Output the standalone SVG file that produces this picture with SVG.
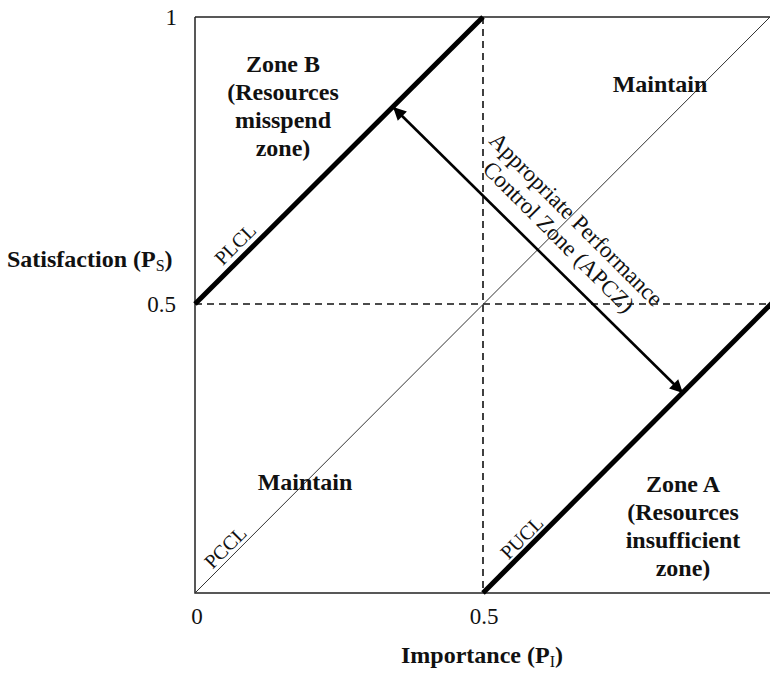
<svg xmlns="http://www.w3.org/2000/svg" width="770" height="673" viewBox="0 0 770 673">
<defs>
<marker id="ah" viewBox="0 0 10 10" refX="9" refY="5" markerWidth="6" markerHeight="5" orient="auto-start-reverse" markerUnits="strokeWidth">
<path d="M0,0 L10,5 L0,10 Z" fill="#000"/>
</marker>
<style>
text{font-family:"Liberation Serif","Times New Roman",serif;fill:#111}
.b{font-weight:bold;font-size:24px}
.r{font-size:23px}
.rl{font-size:20px}
.ap{font-size:23px}
.axis{stroke:#222;stroke-width:1.5;fill:none}
.dash{stroke:#111;stroke-width:1.6;stroke-dasharray:7 5;fill:none}
.thick{stroke:#000;stroke-width:5;fill:none}
.thin{stroke:#333;stroke-width:1;fill:none}
</style>
</defs>
<rect width="770" height="673" fill="#fff"/>
<g id="frame">
<path class="axis" d="M195,17 H770 M195,17 V593 H770"/>
</g>
<g id="connectors">
<path class="dash" d="M483,17 V593"/>
<path class="dash" d="M195,304 H770"/>
<line id="pccl-line" class="thin" x1="195" y1="593" x2="770" y2="17"/>
<line id="plcl-line" class="thick" x1="195" y1="304" x2="483" y2="17"/>
<line id="pucl-line" class="thick" x1="483" y1="593" x2="772" y2="303"/>
<line id="apcz-arrow" x1="394" y1="108" x2="682" y2="392" stroke="#000" stroke-width="2.6" marker-start="url(#ah)" marker-end="url(#ah)"/>
</g>
<g id="ticks">
<text class="r" x="177" y="25" text-anchor="end">1</text>
<text class="r" x="176" y="312" text-anchor="end">0.5</text>
<text class="r" x="197" y="624" text-anchor="middle">0</text>
<text class="r" x="484" y="624" text-anchor="middle">0.5</text>
</g>
<g id="y-label">
<text class="b" x="7" y="267">Satisfaction (P<tspan font-size="16" font-weight="normal" dy="4">S</tspan><tspan dy="-4">)</tspan></text>
</g>
<g id="x-label">
<text class="b" x="401" y="663">Importance (P<tspan font-size="16" font-weight="normal" dy="4">I</tspan><tspan dy="-4">)</tspan></text>
</g>
<g id="zone-b">
<text class="b" text-anchor="middle" x="283" y="72">Zone B</text>
<text class="b" text-anchor="middle" x="283" y="100">(Resources</text>
<text class="b" text-anchor="middle" x="283" y="128">misspend</text>
<text class="b" text-anchor="middle" x="283" y="156">zone)</text>
</g>
<g id="zone-a">
<text class="b" text-anchor="middle" x="683" y="492">Zone A</text>
<text class="b" text-anchor="middle" x="683" y="520">(Resources</text>
<text class="b" text-anchor="middle" x="683" y="548">insufficient</text>
<text class="b" text-anchor="middle" x="683" y="576">zone)</text>
</g>
<g id="maintain-top">
<text class="b" text-anchor="middle" x="660" y="92">Maintain</text>
</g>
<g id="maintain-bottom">
<text class="b" text-anchor="middle" x="305" y="490">Maintain</text>
</g>
<g id="plcl">
<text class="rl" text-anchor="middle" transform="translate(245,254) rotate(-45)" x="0" y="-7">PLCL</text>
</g>
<g id="pccl">
<text class="rl" text-anchor="middle" transform="translate(233,555) rotate(-45)" x="0" y="-4">PCCL</text>
</g>
<g id="pucl">
<text class="rl" text-anchor="middle" transform="translate(530,546) rotate(-45)" x="0" y="-5">PUCL</text>
</g>
<g id="apcz">
<text class="ap" text-anchor="middle" transform="translate(562,233.5) rotate(45)" x="0" y="-12.4">Appropriate Performance</text>
<text class="ap" text-anchor="middle" transform="translate(562,233.5) rotate(45)" x="0" y="12.4">Control Zone (APCZ)</text>
</g>
</svg>
